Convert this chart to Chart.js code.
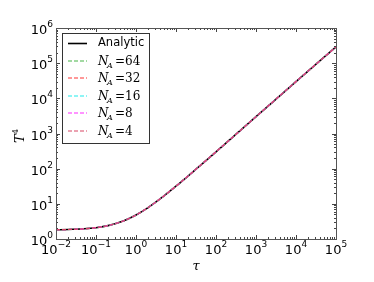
<!DOCTYPE html>
<html>
<head>
<meta charset="utf-8">
<script src="https://cdn.jsdelivr.net/npm/chart.js@4"></script>
<style>
  html, body { margin: 0; padding: 0; background: #fff; }
  #wrap { width: 374px; height: 282px; }
</style>
</head>
<body>
<div id="wrap"><canvas id="t4Graph" width="374" height="282"></canvas></div>
<script>
//<![CDATA[

let tau = [0.01, 0.02, 0.05, 0.1, 0.2, 0.5, 1, 2, 5, 10, 20, 50, 100, 1000, 10000, 100000];
let analytic = [1.83, 1.86, 1.95, 2.1, 2.4, 3.3, 4.8, 7.8, 16.8, 31.8, 61.8, 152, 302, 3000, 30000, 290000];
let numerical = [1.83, 1.86, 1.95, 2.1, 2.4, 3.3, 4.8, 7.8, 16.8, 31.8, 61.8, 152, 302, 3000, 30000, 290000];
let seriesNames = ['64', '32', '16', '8', '4'];
let seriesColors = [
    'rgb(70, 180, 70)',
    'rgb(255, 50, 50)',
    'rgb(30, 235, 235)',
    'rgb(255, 40, 255)',
    'rgb(215, 70, 100)'
];
let xTicks = [-2, -1, 0, 1, 2, 3, 4, 5];
let yTicks = [0, 1, 2, 3, 4, 5, 6];

function points(vals) {
    return tau.map(function(t, i) { return { x: t, y: vals[i] }; });
}

let datasets = [{
    label: 'Analytic',
    data: points(analytic),
    borderColor: '#000',
    borderWidth: 1.6,
    pointRadius: 0,
    cubicInterpolationMode: 'monotone',
    order: 6
}];
for (let i = 0; i < seriesNames.length; i++) {
    datasets.push({
        label: 'N_A=' + seriesNames[i],
        data: points(numerical),
        borderColor: seriesColors[i],
        borderWidth: 1.2,
        borderDash: [4, 2],
        pointRadius: 0,
        cubicInterpolationMode: 'monotone',
        order: 5 - i
    });
}

function drawPow(ctx, x, y, exp, align) {
    ctx.font = '13px "DejaVu Sans"';
    let w1 = ctx.measureText('10').width;
    ctx.font = '9px "DejaVu Sans"';
    let w2 = ctx.measureText(exp).width;
    let x0 = align === 'center' ? x - (w1 + w2) / 2 : x - (w1 + w2);
    ctx.textAlign = 'left';
    ctx.textBaseline = 'alphabetic';
    ctx.font = '13px "DejaVu Sans"';
    ctx.fillText('10', x0, y);
    ctx.font = '9px "DejaVu Sans"';
    ctx.fillText(exp, x0 + w1, y - 7);
}

let decor = {
    id: 'decor',
    afterDraw: function(chart) {
        let ctx = chart.ctx;
        let a = chart.chartArea;
        let xs = chart.scales.x, ys = chart.scales.y;
        ctx.save();
        ctx.fillStyle = '#000';
        ctx.strokeStyle = '#444';
        ctx.lineWidth = 1;

        // ticks on all sides
        ctx.beginPath();
        for (let d = -2; d <= 5; d++) {
            for (let m = 1; m <= 9; m++) {
                let v = m * Math.pow(10, d);
                if (v > 100000) break;
                let px = Math.round(xs.getPixelForValue(v)) + 0.5;
                let len = m === 1 ? 4 : 2;
                ctx.moveTo(px, a.bottom); ctx.lineTo(px, a.bottom - len);
                ctx.moveTo(px, a.top); ctx.lineTo(px, a.top + len);
            }
        }
        for (let d = 0; d <= 6; d++) {
            for (let m = 1; m <= 9; m++) {
                let v = m * Math.pow(10, d);
                if (v > 1000000) break;
                let py = Math.round(ys.getPixelForValue(v)) + 0.5;
                let len = m === 1 ? 4 : 2;
                ctx.moveTo(a.left, py); ctx.lineTo(a.left + len, py);
                ctx.moveTo(a.right, py); ctx.lineTo(a.right - len, py);
            }
        }
        ctx.stroke();
        ctx.strokeStyle = '#555';
        ctx.strokeRect(Math.round(a.left) + 0.5, Math.round(a.top) + 0.5,
            Math.round(a.right - a.left), Math.round(a.bottom - a.top));

        // tick labels
        xTicks.forEach(function(e) {
            drawPow(ctx, xs.getPixelForValue(Math.pow(10, e)), a.bottom + 15, String(e).replace('-', '\u2212'), 'center');
        });
        yTicks.forEach(function(e) {
            drawPow(ctx, a.left - 3, ys.getPixelForValue(Math.pow(10, e)) + 6, String(e), 'right');
        });

        // axis labels
        ctx.font = 'italic 13px "DejaVu Serif"';
        ctx.textAlign = 'center';
        ctx.textBaseline = 'alphabetic';
        ctx.fillText('\u03c4', (a.left + a.right) / 2, 270);
        ctx.save();
        ctx.translate(24, 138);
        ctx.rotate(-Math.PI / 2);
        ctx.font = 'italic 13px "DejaVu Serif"';
        ctx.textAlign = 'left';
        ctx.fillText('T', -5, 0);
        ctx.font = '8px "DejaVu Serif"';
        ctx.fillText('4', 4, -6);
        ctx.restore();

        // legend
        let lx = 62, ly = 33, lw = 87, lh = 110;
        ctx.fillStyle = '#fff';
        ctx.fillRect(lx, ly, lw, lh);
        ctx.strokeStyle = '#333';
        ctx.strokeRect(lx + 0.5, ly + 0.5, lw, lh);
        let rows = [43, 61, 78, 96, 113, 131];
        ctx.lineWidth = 1.6;
        ctx.strokeStyle = '#000';
        ctx.beginPath();
        ctx.moveTo(68, rows[0] + 0.5); ctx.lineTo(87, rows[0] + 0.5);
        ctx.stroke();
        ctx.fillStyle = '#000';
        ctx.font = '11.5px "DejaVu Sans"';
        ctx.textBaseline = 'middle';
        ctx.textAlign = 'left';
        ctx.fillText('Analytic', 98, rows[0]);
        ctx.lineWidth = 1.2;
        ctx.setLineDash([4, 2]);
        for (let i = 0; i < seriesNames.length; i++) {
            let y = rows[i + 1];
            ctx.strokeStyle = seriesColors[i];
            ctx.beginPath();
            ctx.moveTo(68, y); ctx.lineTo(87, y);
            ctx.stroke();
            ctx.fillStyle = '#000';
            ctx.font = 'italic 12px "DejaVu Serif"';
            ctx.textBaseline = 'alphabetic';
            ctx.fillText('N', 98, y + 4);
            ctx.font = 'italic 8px "DejaVu Serif"';
            ctx.fillText('A', 107, y + 7);
            ctx.font = '12px "DejaVu Serif"';
            ctx.fillText('=' + seriesNames[i], 115, y + 4);
        }
        ctx.setLineDash([]);
        ctx.restore();
    }
};

const ctx = document.getElementById('t4Graph');
const t4Chart = new Chart(ctx, {
    type: 'line',
    data: { datasets: datasets },
    options: {
        responsive: false,
        animation: false,
        layout: { padding: { left: 56, right: 38, top: 28, bottom: 43 } },
        plugins: { legend: { display: false }, tooltip: { enabled: false } },
        scales: {
            x: { type: 'logarithmic', min: 0.01, max: 100000, display: false },
            y: { type: 'logarithmic', min: 1, max: 1000000, display: false }
        }
    },
    plugins: [decor]
});

// ]]>
</script>
</body>
</html>
